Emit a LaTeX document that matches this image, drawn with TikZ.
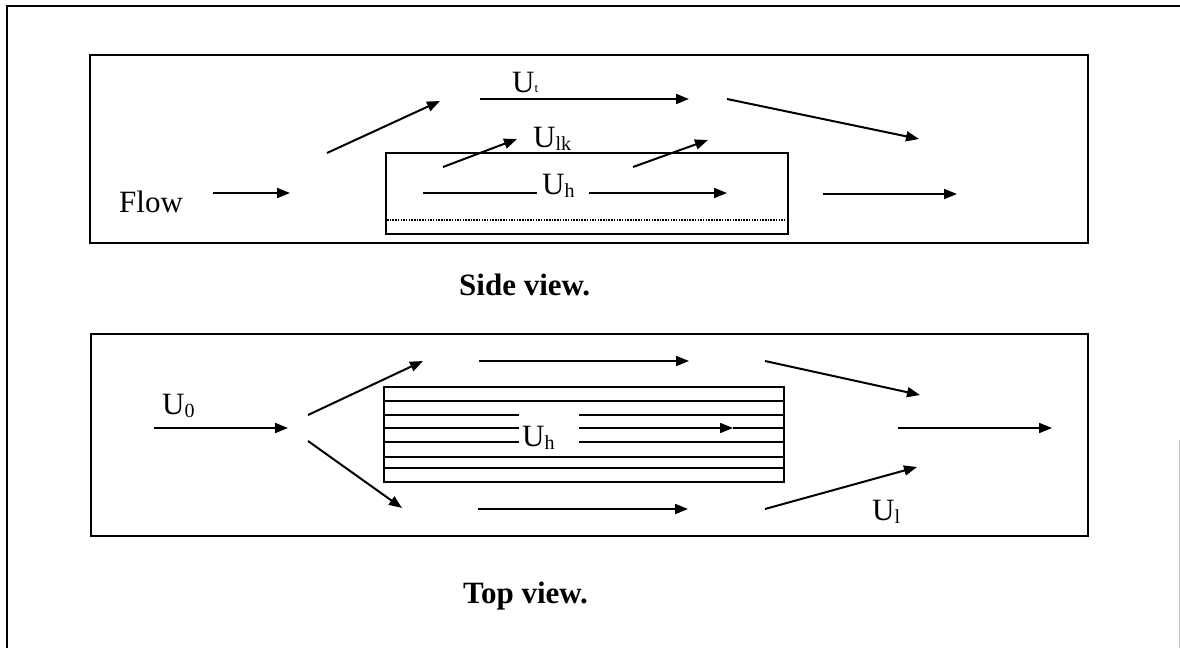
\documentclass[tikz,border=0pt]{standalone}
\usepackage{fontspec}
\setmainfont{Liberation Serif}
\usetikzlibrary{arrows.meta}
\newcommand{\mysub}[1]{\raisebox{-3pt}{\fontsize{20}{20}\selectfont #1}}
\newcommand{\mytiny}[1]{{\fontsize{13}{13}\selectfont #1}}
\begin{document}
\begin{tikzpicture}[x=1pt,y=-1pt,
  frame/.style={line width=2pt},
  flow/.style={line width=2pt,-{Triangle[length=13pt,width=10pt]}},
  plain/.style={line width=2pt},
  hatch/.style={line width=1.4pt},
  lbl/.style={inner sep=0pt,anchor=base west,font=\fontsize{31}{36}\selectfont},
  captxt/.style={inner sep=0pt,anchor=base west,font=\fontsize{31}{36}\selectfont\bfseries}]
\useasboundingbox (0,0) rectangle (1180,648);
% outer frame
\draw[line width=1.5pt] (7,648) -- (7,6) -- (1180,6);
\draw[black!25,line width=1pt] (1179,440) -- (1179,648);

% ---------- Side view ----------
\draw[frame] (90,55) rectangle (1088,243);
\draw[frame] (386,153) rectangle (788,234);
\draw[line width=1.4pt,dash pattern=on 1.5pt off 1.2pt] (387,220) -- (787,220);

\node[lbl] (flow) at (119,212) {Flow};
\coordinate (f1) at (213,193); \coordinate (f2) at (290,193);
\draw[flow] (f1) -- (f2);

\coordinate (d1) at (327,153); \coordinate (d2) at (440,101);
\draw[flow] (d1) -- (d2);

\node[lbl] (ut) at (512,92) {U\mytiny{t}};
\coordinate (t1) at (480,99); \coordinate (t2) at (689,99);
\draw[flow] (t1) -- (t2);

\coordinate (e1) at (727,99); \coordinate (e2) at (919,139);
\draw[flow] (e1) -- (e2);

\node[lbl] (ulk) at (533,147) {U\mysub{lk}};
\coordinate (k1) at (443,167); \coordinate (k2) at (517,139);
\draw[flow] (k1) -- (k2);
\coordinate (k3) at (633,167); \coordinate (k4) at (708,140);
\draw[flow] (k3) -- (k4);

\node[lbl] (uh1) at (542,194) {U\mysub{h}};
\coordinate (h1) at (423,193); \coordinate (h2) at (537,193);
\draw[plain] (h1) -- (h2);
\coordinate (h3) at (589,193); \coordinate (h4) at (727,193);
\draw[flow] (h3) -- (h4);

\coordinate (r1) at (823,194); \coordinate (r2) at (957,194);
\draw[flow] (r1) -- (r2);

\node[captxt] (side) at (459,295) {Side view.};

% ---------- Top view ----------
\draw[frame] (91,334) rectangle (1088,536);

\node[lbl] (u0) at (162,414) {U\mysub{0}};
\coordinate (o1) at (154,428); \coordinate (o2) at (288,428);
\draw[flow] (o1) -- (o2);

\coordinate (s1) at (308,415); \coordinate (s2) at (423,361);
\draw[flow] (s1) -- (s2);
\coordinate (s3) at (308,441); \coordinate (s4) at (402,508);
\draw[flow] (s3) -- (s4);

% hatched box
\draw[frame] (384,387) rectangle (784,482);
\foreach \yy in {401,457,468} \draw[hatch] (384,\yy) -- (784,\yy);
\foreach \yy in {415,442} {
  \draw[hatch] (384,\yy) -- (519,\yy);
  \draw[hatch] (579,\yy) -- (784,\yy);
}
\draw[plain] (384,428) -- (519,428);
\coordinate (m1) at (579,428); \coordinate (m2) at (733,428);
\draw[flow] (m1) -- (m2);
\draw[hatch] (733,428) -- (784,428);
\node[lbl] (uh2) at (522,446) {U\mysub{h}};

\coordinate (a1) at (479,361); \coordinate (a2) at (689,361);
\draw[flow] (a1) -- (a2);
\coordinate (b1) at (478,509); \coordinate (b2) at (688,509);
\draw[flow] (b1) -- (b2);

\coordinate (c1) at (765,361); \coordinate (c2) at (920,395);
\draw[flow] (c1) -- (c2);
\coordinate (c3) at (765,509); \coordinate (c4) at (917,467);
\draw[flow] (c3) -- (c4);

\coordinate (g1) at (898,428); \coordinate (g2) at (1052,428);
\draw[flow] (g1) -- (g2);

\node[lbl] (ul) at (872,520) {U\mysub{l}};

\node[captxt] (top) at (463,603) {Top view.};
\end{tikzpicture}
\end{document}
